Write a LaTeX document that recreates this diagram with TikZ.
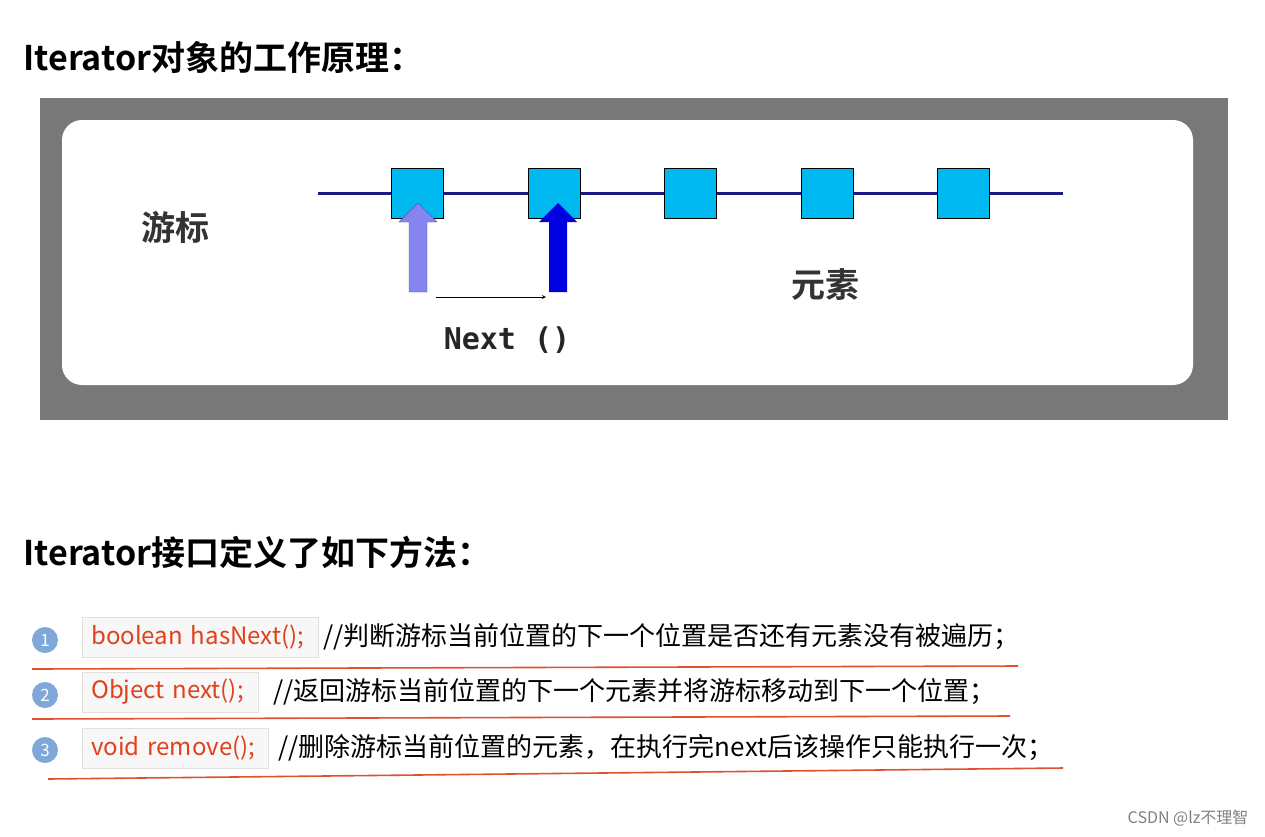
\documentclass[tikz,border=0pt]{standalone}
\usepackage{fontspec}
\setmainfont{Noto Sans CJK SC}
\newfontfamily\cjkb{Noto Sans CJK SC Bold}
\newfontfamily\monob{DejaVu Sans Mono Bold}
\definecolor{navy}{HTML}{1A1A80}
\definecolor{cyanbox}{HTML}{00B8F0}
\definecolor{lpurp}{HTML}{8585F2}
\definecolor{dblue}{HTML}{0000E0}
\definecolor{redt}{HTML}{E0401A}
\definecolor{uline}{HTML}{E05030}
\definecolor{numc}{HTML}{7FA8D8}
\tikzset{
 elem/.style={draw=black,fill=cyanbox,minimum width=52pt,minimum height=50pt,inner sep=0},
 codebox/.style={draw=black!12,fill=black!3,anchor=west,text=redt,font=\fontsize{24}{26}\selectfont,minimum height=40pt,inner xsep=9pt},
 cmt/.style={anchor=west,font=\fontsize{26}{28}\selectfont},
 numb/.style={circle,fill=numc,text=white,minimum size=26pt,inner sep=0,font=\fontsize{17}{17}\selectfont},
 ul/.style={draw=uline,line width=1.6pt},
}
\begin{document}
\begin{tikzpicture}[x=1pt,y=-1pt]
\useasboundingbox (0,0) rectangle (1265,836);
\node[anchor=west,font=\cjkb\fontsize{34}{36}\selectfont] (t1) at (20,57) {Iterator对象的工作原理：};
\fill[black!53] (40,98) rectangle (1228,420);
\fill[white,rounded corners=20pt] (62,120) rectangle (1193,385);
\coordinate (ls) at (318,193); \coordinate (le) at (1063,193);
\draw[navy,line width=3pt] (ls) -- (le);
\foreach \x/\n in {417/a,554/b,690/c,827/d,963/e}{\node[elem] (\n) at (\x,193) {};}
\fill[lpurp,draw=lpurp!70!black,line width=0.4pt] (409,292) -- (409,222) -- (399,222) -- (418,203) -- (437,222) -- (427,222) -- (427,292) -- cycle;
\fill[dblue] (549,292) -- (549,222) -- (539,222) -- (558,203) -- (577,222) -- (567,222) -- (567,292) -- cycle;
\coordinate (s) at (436,297); \coordinate (f) at (546,297);
\draw[-stealth,line width=0.8pt] (s) -- (f);
\node[font=\monob\fontsize{30}{32}\selectfont,text=black!85] (nx) at (507,340) {Next ()};
\node[font=\cjkb\fontsize{34}{36}\selectfont,text=black!80] (yb) at (175,227) {游标};
\node[font=\cjkb\fontsize{34}{36}\selectfont,text=black!80] (ys) at (825,285) {元素};
\node[anchor=west,font=\cjkb\fontsize{34}{36}\selectfont] (t2) at (20,552) {Iterator接口定义了如下方法：};
\node[numb] (n1) at (45,640) {1};
\node[numb] (n2) at (45,695) {2};
\node[numb] (n3) at (45,750) {3};
\node[codebox,minimum width=236pt,text width=218pt] (c1) at (82,637) {boolean hasNext();};
\node[codebox,minimum width=176pt,text width=158pt] (c2) at (82,692) {Object next();};
\node[codebox,minimum width=186pt,text width=168pt] (c3) at (82,748) {void remove();};
\node[cmt] (m1) at (320,637) {//判断游标当前位置的下一个位置是否还有元素没有被遍历；};
\node[cmt] (m2) at (270,692) {//返回游标当前位置的下一个元素并将游标移动到下一个位置；};
\node[cmt] (m3) at (275,748) {//删除游标当前位置的元素，在执行完next后该操作只能执行一次；};
\coordinate (u1a) at (32,669); \coordinate (u1b) at (1018,666);
\coordinate (u2a) at (32,719); \coordinate (u2b) at (1010,716);
\coordinate (u3a) at (48,779); \coordinate (u3b) at (1063,768);
\draw[ul] (u1a) -- (u1b); \draw[ul] (u2a) -- (u2b); \draw[ul] (u3a) -- (u3b);
\node[anchor=east,text=black!50,font=\fontsize{16}{18}\selectfont] (cs) at (1252,818) {CSDN @lz不理智};
\end{tikzpicture}
\end{document}
